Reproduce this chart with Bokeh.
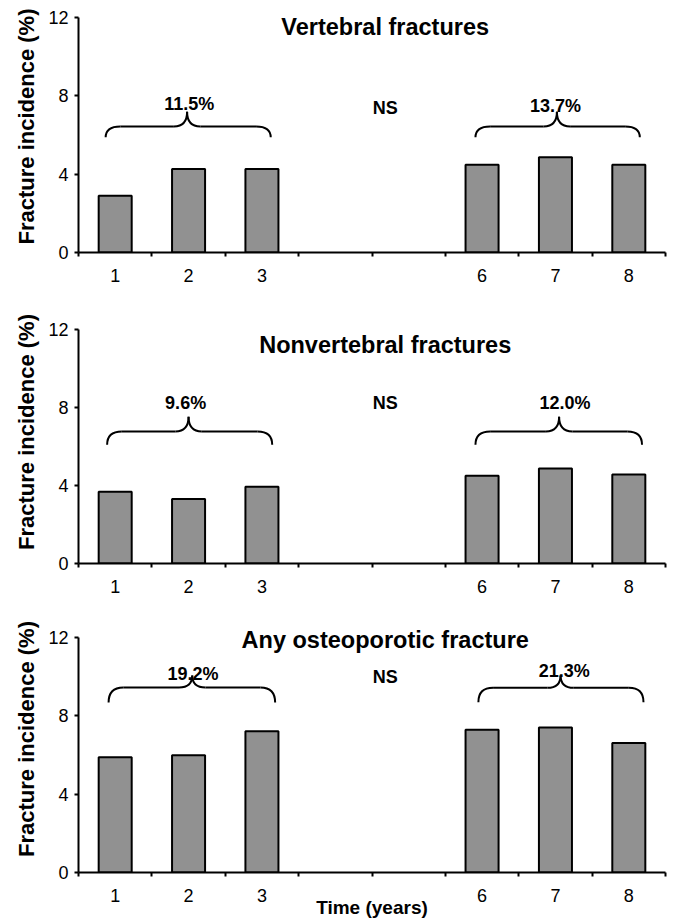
import numpy as np
from bokeh.plotting import figure
from bokeh.models import Range1d, FixedTicker
from bokeh.layouts import column
from bokeh.embed import file_html
from bokeh.resources import INLINE
from bokeh.core.properties import value

# ---------------- data ----------------
years = [1, 2, 3, 6, 7, 8]
vertebral = [2.9, 4.27, 4.27, 4.48, 4.87, 4.48]
nonvertebral = [3.67, 3.3, 3.93, 4.49, 4.86, 4.56]
any_osteoporotic = [5.89, 5.99, 7.22, 7.29, 7.41, 6.62]
titles = ["Vertebral fractures", "Nonvertebral fractures", "Any osteoporotic fracture"]
early_totals = ["11.5%", "9.6%", "19.2%"]
late_totals = ["13.7%", "12.0%", "21.3%"]
comparison = ["NS", "NS", "NS"]
y_ticks = [0, 4, 8, 12]
x_tick_years = [1, 2, 3, 6, 7, 8]
y_axis_label = "Fracture incidence (%)"
x_axis_label = "Time (years)"

series = [vertebral, nonvertebral, any_osteoporotic]

# ---------------- layout / annotation placement ----------------
FONT = value("Liberation Sans")
W = 675
heights = [300, 305, 315]
border_bottom = [48, 42, 48]
px_per_unit = [19.58, 19.53, 19.58]
title_y = [11.51, 11.18, 11.85]
title_x = 4.68
ns_y = [7.4, 8.22, 9.97]
# brace: x0, x1, xm, yb, yh, yp, label_x, label_y
left_brace = [
    (0.87, 3.12, 1.98, 5.88, 6.44, 7.19, 2.01, 7.57),
    (0.89, 3.14, 2.00, 6.08, 6.76, 7.51, 1.96, 8.22),
    (0.91, 3.18, 2.05, 8.68, 9.45, 10.06, 2.06, 10.15),
]
right_brace = [
    (5.91, 8.15, 7.02, 5.88, 6.44, 7.19, 7.00, 7.5),
    (5.91, 8.18, 7.05, 6.08, 6.76, 7.51, 7.13, 8.22),
    (5.95, 8.20, 7.07, 8.70, 9.43, 10.06, 7.12, 10.28),
]


def draw_brace(p, spec, label):
    x0, x1, xm, yb, yh, yp, lx, ly = spec
    rx, rxm = 0.2, 0.18
    p.quadratic(x0=[x0, xm - rxm, xm + rxm, x1],
                y0=[yb, yh, yh, yb],
                x1=[x0 + rx, xm, xm, x1 - rx],
                y1=[yh, yp, yp, yh],
                cx=[x0, xm, xm, x1],
                cy=[yh, yh, yh, yh],
                line_color="black", line_width=2)
    p.segment(x0=[x0 + rx, xm + rxm], y0=[yh, yh],
              x1=[xm - rxm, x1 - rx], y1=[yh, yh],
              line_color="black", line_width=2)
    p.text(x=[lx], y=[ly], text=[label], text_font=FONT,
           text_font_style="bold", text_font_size="18px",
           text_align="center", text_baseline="alphabetic",
           text_color="black")


def make_panel(i):
    h = heights[i]
    frame_h = h - border_bottom[i]
    y_end = frame_h / px_per_unit[i]
    p = figure(width=W, height=h, output_backend="svg", toolbar_location=None,
               x_range=Range1d(0.5, 8.5), y_range=Range1d(0, y_end),
               min_border_left=78, min_border_right=10, min_border_top=0,
               min_border_bottom=border_bottom[i])
    p.outline_line_color = None
    p.xgrid.visible = False
    p.ygrid.visible = False
    p.background_fill_color = "white"
    p.border_fill_color = "white"

    p.vbar(x=years, top=series[i], width=0.45, bottom=0,
           fill_color="#919191", line_color="black", line_width=2)

    # y axis
    ya = p.yaxis[0]
    ya.ticker = FixedTicker(ticks=y_ticks)
    ya.bounds = (0, 12)
    ya.axis_line_width = 2
    ya.major_tick_line_width = 2
    ya.major_tick_out = 4
    ya.major_tick_in = 0
    ya.minor_tick_line_color = None
    ya.major_label_text_font = "Liberation Sans"
    ya.major_label_text_font_size = "18px"
    ya.major_label_text_color = "black"
    ya.major_label_standoff = 6
    ya.axis_label = y_axis_label
    ya.axis_label_text_font = "Liberation Sans"
    ya.axis_label_text_font_style = "bold"
    ya.axis_label_text_font_size = "22px"
    ya.axis_label_text_color = "black"
    ya.axis_label_standoff = 6

    # x axis: labels at bar centres, tick marks between slots
    xa = p.xaxis[0]
    xa.ticker = FixedTicker(ticks=x_tick_years,
                            minor_ticks=list(np.arange(0.5, 9.0, 1.0)))
    xa.axis_line_width = 2
    xa.major_tick_line_color = None
    xa.minor_tick_line_width = 2
    xa.minor_tick_out = 4
    xa.minor_tick_in = 0
    xa.major_label_text_font = "Liberation Sans"
    xa.major_label_text_font_size = "18px"
    xa.major_label_text_color = "black"
    xa.major_label_standoff = 10
    if i == 2:
        xa.axis_label = x_axis_label
        xa.axis_label_text_font = "Liberation Sans"
        xa.axis_label_text_font_style = "bold"
        xa.axis_label_text_font_size = "19px"
        xa.axis_label_text_color = "black"
        xa.axis_label_standoff = -8

    # title
    p.text(x=[title_x], y=[title_y[i]], text=[titles[i]], text_font=FONT,
           text_font_style="bold", text_font_size="23.5px",
           text_align="center", text_baseline="alphabetic", text_color="black")
    # NS
    p.text(x=[title_x], y=[ns_y[i]], text=[comparison[i]], text_font=FONT,
           text_font_style="bold", text_font_size="18px",
           text_align="center", text_baseline="alphabetic", text_color="black")

    draw_brace(p, left_brace[i], early_totals[i])
    draw_brace(p, right_brace[i], late_totals[i])
    return p


panels = [make_panel(i) for i in range(3)]
layout = column(*panels, spacing=0)

open("out.html", "w").write(file_html(layout, INLINE))
